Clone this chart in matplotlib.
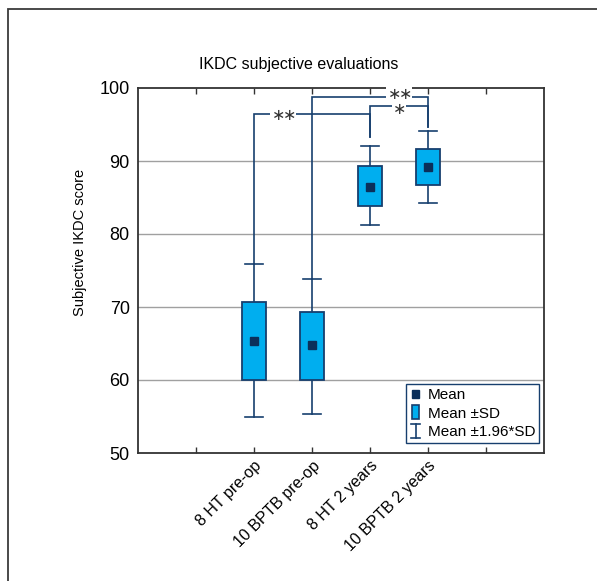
import matplotlib
matplotlib.use("Agg")
import matplotlib.pyplot as plt
from matplotlib.patches import Rectangle
from matplotlib.lines import Line2D
from matplotlib.legend_handler import HandlerBase
from matplotlib.transforms import ScaledTranslation

# ---------------- data ----------------
categories = ["8 HT pre-op", "10 BPTB pre-op", "8 HT 2 years", "10 BPTB 2 years"]
means = [65.4, 64.8, 86.5, 89.2]
sd_low = [60.0, 60.0, 83.9, 86.7]
sd_high = [70.7, 69.3, 89.3, 91.6]
ci_low = [55.0, 55.4, 81.3, 84.2]
ci_high = [75.9, 73.8, 92.0, 94.1]
# significance brackets: (left index, right index, level, left-leg bottom, right-leg bottom, label, label x, label dy)
brackets = [
    (0, 2, 96.4, 75.9, 93.3, "**", 2.5, 0.0),
    (1, 3, 98.7, 73.8, 94.7, "**", 4.5, 0.6),
    (2, 3, 97.6, 93.3, 94.7, "*", 4.5, -0.3),
]
title = "IKDC subjective evaluations"
ylabel = "Subjective IKDC score"
yticks = [50, 60, 70, 80, 90, 100]

# ---------------- style ----------------
plt.rcParams["font.family"] = ["Liberation Sans", "DejaVu Sans"]
plt.rcParams["mathtext.fontset"] = "dejavusans"

NAVY = "#173f6e"
MEAN_C = "#0b2f5a"
FILL = "#00aeef"
GRID = "#a0a0a0"

fig = plt.figure(figsize=(5.97, 5.81), dpi=100)
ax = fig.add_axes([138 / 597, 1 - 453 / 581, 406 / 597, 365 / 581])

# outer frame (partially cropped in the reference)
fig.add_artist(Rectangle((8 / 597, -0.1), 1.2, 1 - 9 / 581 + 0.1, transform=fig.transFigure,
                         fill=False, edgecolor="#3a3a3a", linewidth=1.3))

pos = [2, 3, 4, 5]
bw = 0.4
cw = 0.3

ax.set_xlim(0, 7)
ax.set_ylim(50, 100)
for y in yticks[1:-1]:
    ax.axhline(y, color=GRID, linewidth=1.0, zorder=0.5)

for i, x in enumerate(pos):
    ax.plot([x, x], [ci_low[i], sd_low[i]], color=NAVY, lw=1.2, zorder=2)
    ax.plot([x, x], [sd_high[i], ci_high[i]], color=NAVY, lw=1.2, zorder=2)
    ax.plot([x - cw / 2, x + cw / 2], [ci_low[i]] * 2, color=NAVY, lw=1.2, zorder=2)
    ax.plot([x - cw / 2, x + cw / 2], [ci_high[i]] * 2, color=NAVY, lw=1.2, zorder=2)
    ax.add_patch(Rectangle((x - bw / 2, sd_low[i]), bw, sd_high[i] - sd_low[i],
                           facecolor=FILL, edgecolor=NAVY, lw=1.3, zorder=3))
    ax.plot([x], [means[i]], marker="s", ms=5.5, color=MEAN_C, mec=MEAN_C, zorder=4, linestyle="none")

for (a, b, lev, lbot, rbot, lab, tx, dy) in brackets:
    xa, xb = pos[a], pos[b]
    ax.plot([xa, xa, xb, xb], [lbot, lev, lev, rbot],
            color=NAVY, lw=1.2, zorder=2, solid_joinstyle="miter")

for (a, b, lev, lbot, rbot, lab, tx, dy) in brackets:
    ax.text(tx, lev + dy, "$" + r"\!\!".join([r"\ast"] * len(lab)) + "$", ha="center",
            va="center_baseline", fontsize=11.5, color="#333333", zorder=5,
            bbox=dict(facecolor="white", edgecolor="none", pad=0.1))

ax.set_yticks(yticks)
ax.set_yticklabels([str(v) for v in yticks], fontsize=13)
ax.set_xticks([1, 2, 3, 4, 5, 6])
ax.set_xticklabels([""] + categories + [""], fontsize=11.5, rotation=45, ha="right",
                   va="top", rotation_mode="anchor")
for lbl in ax.get_xticklabels():
    lbl.set_transform(lbl.get_transform() + ScaledTranslation(21 / 100, 6 / 100, fig.dpi_scale_trans))
ax.tick_params(axis="both", direction="in", length=4, width=1, colors="#333333",
               top=True, right=False, labelcolor="black")
ax.tick_params(axis="y", length=0, pad=6)
for s in ax.spines.values():
    s.set_color("#333333")
    s.set_linewidth(1.3)

fig.text(0.5, 1 - 65 / 581, title, fontsize=11.5, ha="center", va="center")
ax.set_ylabel(ylabel, fontsize=10.5)
ax.yaxis.set_label_coords(-0.125, (453 - 242) / 365)


# ---------------- legend ----------------
class HMean(HandlerBase):
    def create_artists(self, legend, orig, xd, yd, w, h, fs, trans):
        s = h * 0.7
        return [Rectangle((w / 2 - s / 2, h / 2 - s / 2), s, s, facecolor=MEAN_C, edgecolor=MEAN_C, transform=trans)]


class HBox(HandlerBase):
    def create_artists(self, legend, orig, xd, yd, w, h, fs, trans):
        bwid = h * 0.6
        return [Rectangle((w / 2 - bwid / 2, -h * 0.15), bwid, h * 1.3, facecolor=FILL, edgecolor=NAVY, lw=1.2, transform=trans)]


class HErr(HandlerBase):
    def create_artists(self, legend, orig, xd, yd, w, h, fs, trans):
        c = w / 2
        hw = h * 0.45
        return [Line2D([c, c], [-h * 0.15, h * 1.15], color=NAVY, lw=1.2, transform=trans),
                Line2D([c - hw, c + hw], [-h * 0.15] * 2, color=NAVY, lw=1.2, transform=trans),
                Line2D([c - hw, c + hw], [h * 1.15] * 2, color=NAVY, lw=1.2, transform=trans)]


class K:
    pass


k1, k2, k3 = K(), K(), K()
leg = ax.legend([k1, k2, k3], ["Mean", "Mean \u00b1SD", "Mean \u00b11.96*SD"],
                handler_map={k1: HMean(), k2: HBox(), k3: HErr()},
                loc="lower right", bbox_to_anchor=(0.988, 0.027), borderaxespad=0,
                fontsize=11, handlelength=0.8, handletextpad=0.4, labelspacing=0.3,
                borderpad=0.25, fancybox=False, framealpha=1, edgecolor=NAVY)
leg.get_frame().set_linewidth(1.0)

fig.savefig("out.png", dpi=100)
